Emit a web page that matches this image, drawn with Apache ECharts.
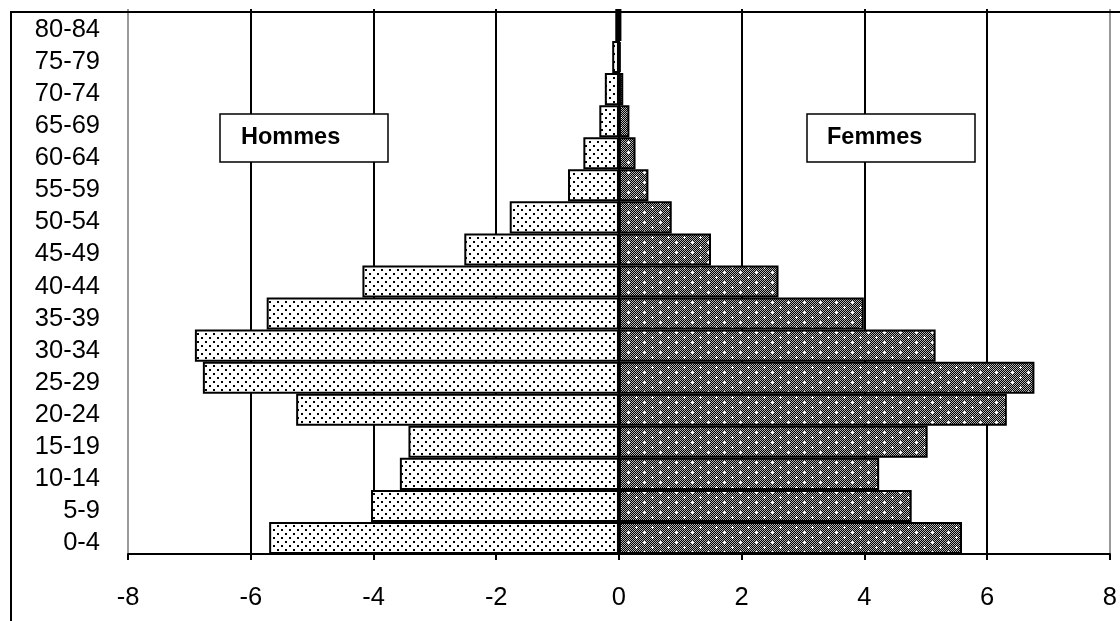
<!DOCTYPE html>
<html>
<head>
<meta charset="utf-8">
<script src="https://cdn.jsdelivr.net/npm/echarts@6/dist/echarts.min.js"></script>
<style>
html,body{margin:0;padding:0;background:#fff;}
#chart{width:1120px;height:621px;}
</style>
</head>
<body>
<div id="chart"></div>
<script>
// ---- data ----
const categories = ['0-4','5-9','10-14','15-19','20-24','25-29','30-34','35-39','40-44','45-49','50-54','55-59','60-64','65-69','70-74','75-79','80-84'];
const hommes = [-5.70,-4.04,-3.57,-3.43,-5.26,-6.78,-6.91,-5.74,-4.18,-2.52,-1.78,-0.83,-0.58,-0.32,-0.23,-0.11,-0.06];
const femmes = [5.59,4.77,4.24,5.03,6.32,6.77,5.16,3.99,2.60,1.50,0.86,0.48,0.27,0.17,0.07,0.03,0.04];
const xTicks = [-8,-6,-4,-2,0,2,4,6,8];
const seriesNames = ['Hommes','Femmes'];

// ---- patterns ----
function dotPattern(){
  const c=document.createElement('canvas'); c.width=8; c.height=8;
  const g=c.getContext('2d');
  g.fillStyle='#fff'; g.fillRect(0,0,8,8);
  g.fillStyle='#000'; g.fillRect(1,1,2,2); g.fillRect(5,5,2,2);
  return c;
}
function checkPattern(){
  const w=16,h=10;
  const c=document.createElement('canvas'); c.width=w; c.height=h;
  const g=c.getContext('2d');
  g.fillStyle='#000'; g.fillRect(0,0,w,h);
  g.fillStyle='rgba(255,255,255,0.7)';
  for(let y=0;y<h;y++) for(let x=0;x<w;x++) if((x+y)%2===0) g.fillRect(x,y,1,1);
  g.fillStyle='#fff';
  function cross(cx,cy){ g.fillRect(cx-1,cy,3,1); g.fillRect(cx,cy-1,1,3); }
  cross(4,2); cross(12,7);
  return c;
}

const chart = echarts.init(document.getElementById('chart'), null, {renderer:'canvas'});
const font = "'Liberation Sans', Arial, sans-serif";
chart.setOption({
  animation:false,
  backgroundColor:'#fff',
  grid:{left:128, right:9, top:9, bottom:67, containLabel:false},
  xAxis:{
    type:'value', min:-8, max:8, interval:2,
    axisLine:{show:true, onZero:false, lineStyle:{color:'#000', width:2}},
    axisTick:{show:true, length:6, lineStyle:{color:'#000', width:2}},
    axisLabel:{color:'#000', fontSize:25.5, fontFamily:font, margin:31,
      formatter:function(v){ return xTicks.indexOf(v)>=0 ? String(v) : ''; }},
    splitLine:{show:true, lineStyle:{width:2, color:['#999','#000','#000','#000','#000','#000','#000','#000','#999']}}
  },
  yAxis:{
    type:'category', data:categories,
    axisLine:{show:false, onZero:false},
    axisTick:{show:false},
    axisLabel:{color:'#000', fontSize:25.5, fontFamily:font, margin:28, interval:0,
      formatter:function(v){ return '{a|' + v + '}'; },
      rich:{a:{fontSize:25.5, fontFamily:font, color:'#000', padding:[10,0,0,0]}}},
    splitLine:{show:false}
  },
  series:[
    {name:seriesNames[0], type:'bar', data:hommes, barCategoryGap:'0%', barGap:'-100%',
     itemStyle:{color:{image:dotPattern(), repeat:'repeat'}, borderColor:'#000', borderWidth:2}},
    {name:seriesNames[1], type:'bar', data:femmes, barCategoryGap:'0%', barGap:'-100%',
     itemStyle:{color:{image:checkPattern(), repeat:'repeat'}, borderColor:'#000', borderWidth:2}}
  ],
  graphic:[
    {type:'polyline', shape:{points:[[11,621],[11,12],[1120,12]]}, style:{stroke:'#000', lineWidth:2, fill:null}, z:100},
    {type:'rect', shape:{x:220, y:114, width:168, height:48}, style:{fill:'#fff', stroke:'#000', lineWidth:1.5}, z:100},
    {type:'text', x:241, y:138, style:{text:seriesNames[0], font:"bold 23.5px 'Liberation Sans', Arial, sans-serif", fill:'#000', verticalAlign:'middle'}, z:101},
    {type:'rect', shape:{x:807, y:114, width:168, height:48}, style:{fill:'#fff', stroke:'#000', lineWidth:1.5}, z:100},
    {type:'text', x:827, y:138, style:{text:seriesNames[1], font:"bold 23.5px 'Liberation Sans', Arial, sans-serif", fill:'#000', verticalAlign:'middle'}, z:101}
  ]
});
</script>
</body>
</html>
